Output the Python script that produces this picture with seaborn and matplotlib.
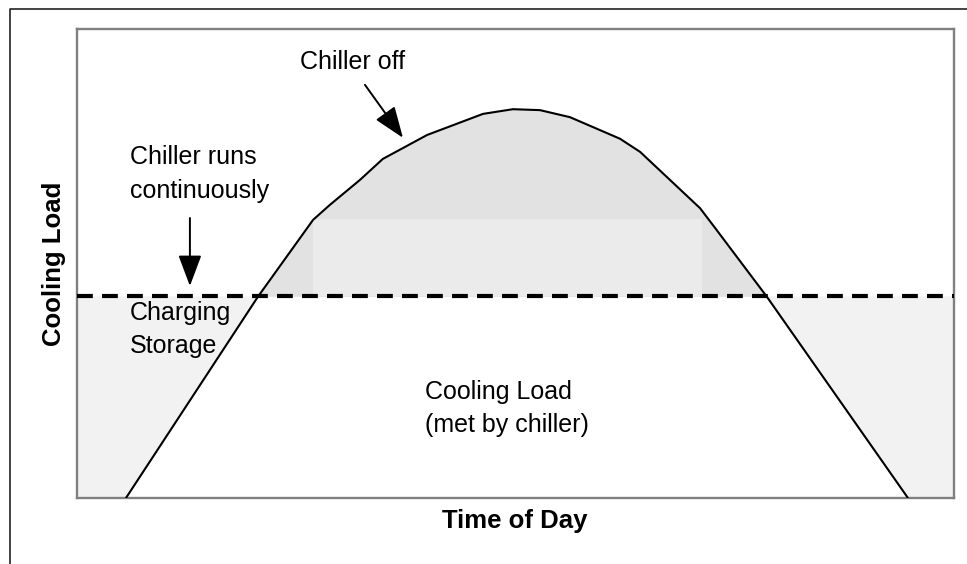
import matplotlib
matplotlib.use("Agg")
import matplotlib.pyplot as plt
from matplotlib.lines import Line2D
import numpy as np
import pandas as pd
import seaborn as sns

# ---- data (x = hour of day, y = relative cooling load) ----
hours = [1.34, 4.95, 6.46, 6.92, 7.74, 8.37, 9.58, 11.11, 11.93, 12.67,
         13.49, 14.86, 15.41, 16.23, 17.05, 17.46, 18.88, 22.74]
load = [0.0, 42.9, 59.3, 62.5, 67.8, 72.3, 77.4, 81.9, 82.9, 82.7,
        81.2, 76.6, 73.8, 67.8, 61.8, 57.6, 42.9, 0.0]
chiller_capacity = 43.0
band_hours = [6.46, 17.1]
band_top = 59.5
x_range = [0.0, 24.0]
y_range = [0.0, 100.0]

sns.set_theme(style="white")
plt.rcParams["font.family"] = ["Liberation Sans", "DejaVu Sans"]
plt.rcParams["text.color"] = "black"

W, H, DPI = 967, 564, 100
fig = plt.figure(figsize=(W / DPI, H / DPI), dpi=DPI)
L, R, T, B = 77, 954, 29, 498
ax = fig.add_axes([L / W, (H - B) / H, (R - L) / W, (B - T) / H])
ax.set_xlim(*x_range)
ax.set_ylim(*y_range)

df = pd.DataFrame({"hour": hours, "load": load})
cap = pd.DataFrame({"hour": x_range, "load": [chiller_capacity] * 2})

# fills
xf = np.array([x_range[0]] + hours + [x_range[1]])
yf = np.array([0.0] + load + [0.0])
ax.fill_between(xf, yf, chiller_capacity, where=yf <= chiller_capacity,
                interpolate=True, color="#f2f2f2", linewidth=0, zorder=1)
ax.fill_between(xf, chiller_capacity, yf, where=yf >= chiller_capacity,
                interpolate=True, color="#e2e2e2", linewidth=0, zorder=1)
ax.fill_between(band_hours, chiller_capacity, band_top,
                color="#ebebeb", linewidth=0, zorder=2)

sns.lineplot(data=df, x="hour", y="load", ax=ax, color="black",
             linewidth=1.5, sort=False, zorder=4)
sns.lineplot(data=cap, x="hour", y="load", ax=ax, color="black",
             linewidth=3.0, zorder=5)
ax.lines[-1].set_dashes((3.8, 2.2))

for s in ax.spines.values():
    s.set_color("#808080")
    s.set_linewidth(1.7)
    s.set_visible(True)
ax.set_xticks([])
ax.set_yticks([])
ax.set_xlabel("")
ax.set_ylabel("")

fs = 18
txt = dict(fontsize=fs, color="black", va="baseline", ha="left", zorder=6)
ax.text(6.10, 91.5, "Chiller off", **txt)
ax.text(1.45, 71.2, "Chiller runs", **txt)
ax.text(1.45, 64.0, "continuously", **txt)
ax.text(1.45, 38.0, "Charging", **txt)
ax.text(1.45, 30.9, "Storage", **txt)
ax.text(9.52, 21.1, "Cooling Load", **txt)
ax.text(9.52, 14.1, "(met by chiller)", **txt)

arrowprops = dict(arrowstyle="-|>,head_length=1.6,head_width=0.6",
                  color="black", lw=1.4, shrinkA=0, shrinkB=0)
ax.annotate("", xy=(3.09, 45.2), xytext=(3.09, 59.7), arrowprops=arrowprops, zorder=6)
ax.annotate("", xy=(8.92, 76.8), xytext=(7.88, 88.1), arrowprops=arrowprops, zorder=6)

fig.text(515 / W, (H - 528) / H, "Time of Day", fontsize=18.5, color="black",
         fontweight="bold", ha="center", va="baseline")
fig.text(54 / W, (H - 264) / H, "Cooling Load", fontsize=18.5, color="black",
         fontweight="bold", ha="center", va="center", rotation=90)

# outer frame (left and top edges)
fig.add_artist(Line2D([10 / W, 10 / W, 1.0], [0.0, (H - 9) / H, (H - 9) / H],
                      transform=fig.transFigure, color="#222222", lw=1.2))

fig.savefig("out.png", dpi=DPI)
